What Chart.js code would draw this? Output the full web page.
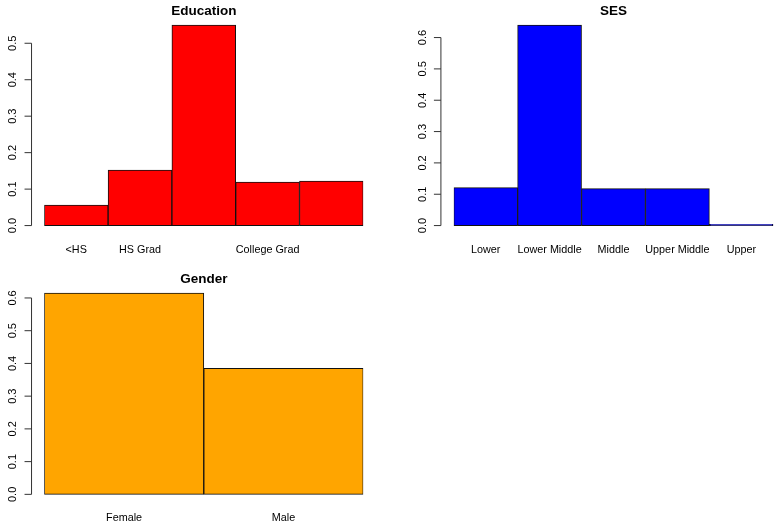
<!DOCTYPE html>
<html>
<head>
<meta charset="utf-8">
<script src="https://cdn.jsdelivr.net/npm/chart.js@4/dist/chart.umd.min.js"></script>
<style>
  body { margin: 0; background: #fff; width: 778px; height: 527px; overflow: hidden; position: relative; }
  canvas { position: absolute; }
</style>
</head>
<body>
<canvas id="edu" width="389" height="263" style="left:0;top:0"></canvas>
<canvas id="ses" width="389" height="263" style="left:389px;top:0"></canvas>
<canvas id="gender" width="389" height="259" style="left:0;top:268px"></canvas>
<script>
const educationLabels = ["<HS", "HS Grad", "", "College Grad", ""];
const educationValues = [0.056, 0.152, 0.550, 0.119, 0.122];
const educationTicks = [0, 0.1, 0.2, 0.3, 0.4, 0.5];

const sesLabels = ["Lower", "Lower Middle", "Middle", "Upper Middle", "Upper"];
const sesValues = [0.121, 0.640, 0.118, 0.118, 0.004];
const sesTicks = [0, 0.1, 0.2, 0.3, 0.4, 0.5, 0.6];

const genderLabels = ["Female", "Male"];
const genderValues = [0.615, 0.385];
const genderTicks = [0, 0.1, 0.2, 0.3, 0.4, 0.5, 0.6];

Chart.defaults.font.family = "'Liberation Sans', Arial, sans-serif";
Chart.defaults.color = "#000";

// R-style y axis: line only spans the ticks, labels turned 90 degrees
const rAxis = {
  id: "rAxis",
  afterDraw(chart) {
    const { ctx, chartArea } = chart;
    const y = chart.scales.y;
    const ticks = chart.options.plugins.rAxis.ticks;
    const axisX = chartArea.left - 0.04 * (chartArea.right - chartArea.left);
    ctx.save();
    ctx.strokeStyle = "#333";
    ctx.lineWidth = 1;
    ctx.beginPath();
    ctx.moveTo(axisX, y.getPixelForValue(ticks[0]));
    ctx.lineTo(axisX, y.getPixelForValue(ticks[ticks.length - 1]));
    ticks.forEach(t => {
      const py = y.getPixelForValue(t);
      ctx.moveTo(axisX - 7, py);
      ctx.lineTo(axisX, py);
    });
    ctx.stroke();
    ctx.fillStyle = "#000";
    ctx.font = "11px 'Liberation Sans', Arial, sans-serif";
    ctx.textAlign = "center";
    ctx.textBaseline = "middle";
    ticks.forEach(t => {
      ctx.save();
      ctx.translate(axisX - 18.4, y.getPixelForValue(t));
      ctx.rotate(-Math.PI / 2);
      ctx.fillText(t.toFixed(1), 0, 0);
      ctx.restore();
    });
    ctx.restore();
  }
};

function makePanel(id, title, labels, values, ticks, color, pad, xHeight) {
  const top = Math.max(...values);
  return new Chart(document.getElementById(id), {
    type: "bar",
    data: {
      labels: labels,
      datasets: [{
        data: values,
        backgroundColor: color,
        borderColor: "#111",
        borderWidth: 1,
        borderSkipped: false,
        categoryPercentage: 1,
        barPercentage: 1
      }]
    },
    options: {
      responsive: false,
      animation: false,
      layout: { padding: pad },
      plugins: {
        legend: { display: false },
        tooltip: { enabled: false },
        title: {
          display: true,
          text: title,
          fullSize: false,
          font: { size: 13.5, weight: "bold", lineHeight: 1 },
          color: "#000",
          padding: { top: 4.5, bottom: -1 }
        },
        rAxis: { ticks: ticks }
      },
      scales: {
        x: {
          type: "category",
          grid: { display: false, drawTicks: false },
          border: { display: false },
          ticks: { font: { size: 10.8 }, padding: 9.5, maxRotation: 0, autoSkip: false },
          afterFit: s => { s.height = xHeight; }
        },
        y: {
          display: false,
          min: -0.04 * top,
          max: top * 1.04
        }
      }
    },
    plugins: [rAxis]
  });
}

makePanel("edu", "Education", educationLabels, educationValues, educationTicks, "#ff0000",
  { left: 44.3, right: 25.7, top: 0, bottom: 0 }, 29.4);
makePanel("ses", "SES", sesLabels, sesValues, sesTicks, "#0000ff",
  { left: 64.7, right: 4.7, top: 0, bottom: 0 }, 29.4);
makePanel("gender", "Gender", genderLabels, genderValues, genderTicks, "#ffa500",
  { left: 44.3, right: 25.7, top: 0, bottom: 0 }, 24.6);
</script>
</body>
</html>
